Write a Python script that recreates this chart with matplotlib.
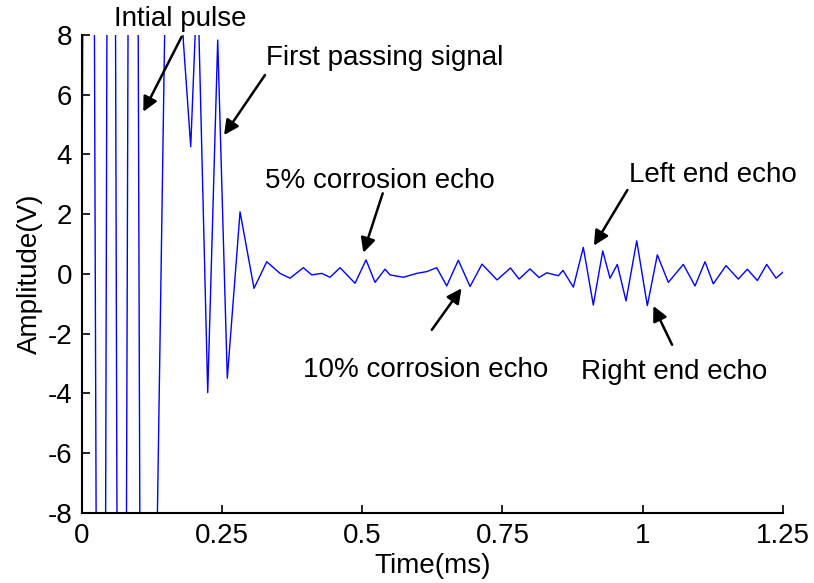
import numpy as np
import matplotlib
matplotlib.use('Agg')
import matplotlib.pyplot as plt

plt.rcParams['font.family'] = ['Liberation Sans', 'DejaVu Sans']
plt.rcParams['axes.unicode_minus'] = False

# Waveform (time in ms, amplitude in V).
# The initial pulse goes far beyond the +/-8 V window, so its peaks are only guessed.
time_ms = [0.0, 0.0130, 0.0353, 0.0522, 0.0709, 0.0914, 0.1128, 0.1253, 0.1574,
           0.1811, 0.1943, 0.2064, 0.2246, 0.2424, 0.2595, 0.2822, 0.3071, 0.3298,
           0.3535, 0.3713, 0.3950, 0.4100, 0.4278, 0.4426, 0.4605, 0.4872, 0.5068,
           0.5228, 0.5406, 0.5496, 0.5733, 0.5971, 0.6150, 0.6328, 0.6506, 0.6713,
           0.6922, 0.7135, 0.7403, 0.7643, 0.7795, 0.7991, 0.8152, 0.8289, 0.8496,
           0.8579, 0.8763, 0.8941, 0.9119, 0.9287, 0.9417, 0.9547, 0.9702, 0.9893,
           1.0082, 1.0260, 1.0456, 1.0724, 1.0932, 1.1110, 1.1258, 1.1485, 1.1704,
           1.1865, 1.2043, 1.2210, 1.2376, 1.25]
amplitude = [0.0, 60, -60, 60, -60, 60, -60, -20, 20,
             7.8, 4.26, 10, -3.97, 7.83, -3.49, 2.08, -0.48, 0.41,
             0.02, -0.14, 0.21, -0.03, 0.02, -0.11, 0.21, -0.31, 0.47,
             -0.28, 0.16, -0.03, -0.11, 0.02, 0.08, 0.21, -0.40, 0.46,
             -0.42, 0.33, -0.20, 0.20, -0.17, 0.17, -0.12, 0.04, -0.06,
             0.12, -0.44, 0.89, -1.04, 0.77, -0.14, 0.32, -0.90, 1.11,
             -1.06, 0.64, -0.28, 0.32, -0.40, 0.41, -0.33, 0.28, -0.17,
             0.16, -0.22, 0.32, -0.14, 0.06]

x_ticks = [0, 0.25, 0.5, 0.75, 1, 1.25]
x_tick_labels = ['0', '0.25', '0.5', '0.75', '1', '1.25']
y_ticks = [-8, -6, -4, -2, 0, 2, 4, 6, 8]

# label text, text anchor, arrow tail, arrow head (data units)
notes = [
    ('Intial pulse', (0.175, 8.53), (0.178, 7.94), (0.1098, 5.43), 'center'),
    ('First passing signal', (0.329, 7.22), (0.3267, 6.66), (0.2537, 4.65), 'left'),
    ('5% corrosion echo', (0.327, 3.11), (0.5365, 2.70), (0.502, 0.71), 'left'),
    ('10% corrosion echo', (0.3946, -3.21), (0.624, -1.87), (0.677, -0.48), 'left'),
    ('Left end echo', (0.976, 3.31), (0.9726, 2.81), (0.913, 0.95), 'left'),
    ('Right end echo', (0.890, -3.28), (1.0523, -2.37), (1.019, -1.07), 'left'),
]

fig = plt.figure(figsize=(8.14, 5.83), dpi=100)
ax = fig.add_axes([0.1004, 0.1201, 0.8615, 0.8199])

ax.plot(time_ms, amplitude, color='#0000ff', lw=1.0)

ax.set_xlim(0, 1.25)
ax.set_ylim(-8, 8)
ax.set_xticks(x_ticks)
ax.set_xticklabels(x_tick_labels)
ax.set_yticks(y_ticks)
ax.tick_params(direction='in', length=6, width=1.2, labelsize=20, pad=7)
for side in ['top', 'right']:
    ax.spines[side].set_visible(False)
for side in ['left', 'bottom']:
    ax.spines[side].set_linewidth(1.5)

ax.set_xlabel('Time(ms)', fontsize=20, labelpad=3)
ax.set_ylabel('Amplitude(V)', fontsize=20, labelpad=3)

for label, txt_pos, tail, head, ha in notes:
    ax.text(txt_pos[0], txt_pos[1], label, fontsize=20, ha=ha, va='center',
            clip_on=False)
    ax.annotate('', xy=head, xytext=tail, annotation_clip=False,
                arrowprops=dict(arrowstyle='-|>', color='black', lw=1.8,
                                mutation_scale=22, shrinkA=0, shrinkB=0))

fig.savefig('out.png', dpi=100)
